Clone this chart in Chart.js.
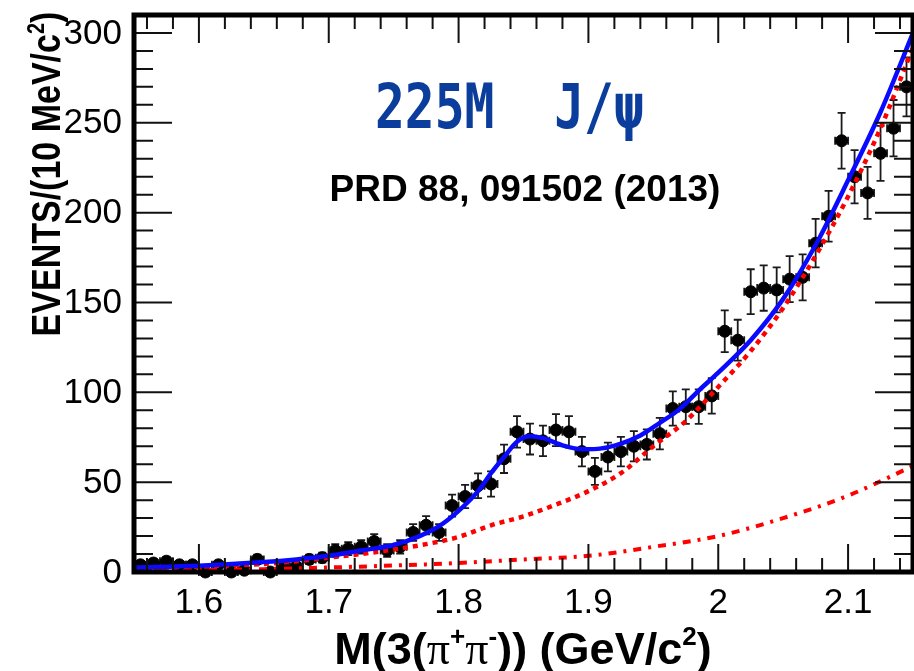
<!DOCTYPE html>
<html>
<head>
<meta charset="utf-8">
<title>M(3(π+π-)) spectrum</title>
<script src="https://cdn.jsdelivr.net/npm/chart.js@4.4.1/dist/chart.umd.min.js"></script>
<style>
  html, body { margin: 0; padding: 0; background: #fff; overflow: hidden; }
  #wrap { position: relative; width: 920px; height: 671px; }
</style>
</head>
<body>
<div id="wrap"><canvas id="spectrum" width="920" height="671"></canvas></div>
<script>
// 10 MeV bins, centres in GeV/c^2
const binCenters = [
  1.555, 1.565, 1.575, 1.585, 1.595, 1.605, 1.615, 1.625, 1.635, 1.645,
  1.655, 1.665, 1.675, 1.685, 1.695, 1.705, 1.715, 1.725, 1.735, 1.745,
  1.755, 1.765, 1.775, 1.785, 1.795, 1.805, 1.815, 1.825, 1.835, 1.845,
  1.855, 1.865, 1.875, 1.885, 1.895, 1.905, 1.915, 1.925, 1.935, 1.945,
  1.955, 1.965, 1.975, 1.985, 1.995, 2.005, 2.015, 2.025, 2.035, 2.045,
  2.055, 2.065, 2.075, 2.085, 2.095, 2.105, 2.115, 2.125, 2.135, 2.145
];
const counts = [
  4, 5, 6, 4, 4, 0, 4, 0, 1, 7,
  0, 3, 3, 7, 8, 12, 13, 14, 17, 12,
  14, 22, 26, 22, 37, 42, 48, 49, 63, 78,
  74, 73, 79, 78, 67, 56, 64, 67, 70, 71,
  77, 91, 92, 92, 98, 134, 129, 156, 158, 157,
  163, 164, 183, 198, 240, 220, 211, 233, 247, 270
];
const countErrors = [
  2.0, 2.2, 2.4, 2.0, 2.0, 0, 2.0, 0, 1.0, 2.6,
  0, 1.7, 1.7, 2.6, 2.8, 3.5, 3.6, 3.7, 4.1, 3.5,
  3.7, 4.7, 5.1, 4.7, 6.1, 6.5, 6.9, 7.0, 7.9, 8.8,
  8.6, 8.5, 8.9, 8.8, 8.2, 7.5, 8.0, 8.2, 8.4, 8.4,
  8.8, 9.5, 9.6, 9.6, 9.9, 11.6, 11.4, 12.5, 12.6, 12.5,
  12.8, 12.8, 13.5, 14.1, 15.5, 14.8, 14.5, 15.3, 15.7, 16.4
];
const binHalfWidth = 0.005;

// total fit
const fitMass = [1.55, 1.6, 1.65, 1.675, 1.7, 1.725, 1.75, 1.77, 1.785, 1.8, 1.815, 1.825, 1.835,
  1.845, 1.855, 1.865, 1.88, 1.895, 1.91, 1.925, 1.94, 1.955, 1.97, 1.985, 2.0, 2.025, 2.05,
  2.075, 2.1, 2.125, 2.15];
const fitTotal = [2.5, 3.5, 5.5, 7, 9, 12, 15, 20, 25.5, 34, 45, 55, 64,
  72.5, 75.5, 74.5, 70.5, 68.3, 68.8, 71.5, 76, 83, 90.5, 101, 111, 129, 152,
  182, 218, 256, 300];

// background shapes
const bkgMass = [1.55, 1.575, 1.6, 1.625, 1.65, 1.675, 1.7, 1.725, 1.75, 1.775, 1.8, 1.825,
  1.85, 1.875, 1.9, 1.925, 1.95, 1.975, 2.0, 2.025, 2.05, 2.075, 2.1, 2.125, 2.15];
const bkgTotal = [2, 2.5, 3, 3.7, 4.5, 6, 8, 10, 12.5, 15.5, 19.5, 26,
  31, 37.5, 45, 55, 70, 84, 103, 123, 147, 176, 209, 247, 292];
const compMass = [1.55, 1.6, 1.65, 1.7, 1.75, 1.8, 1.85, 1.9, 1.95, 2.0, 2.05, 2.1, 2.15];
const compValues = [0.5, 1, 1.6, 2.5, 3.6, 5, 7, 9, 14, 20, 30, 42.5, 59];

const xTicks = [1.6, 1.7, 1.8, 1.9, 2.0, 2.1];
const yTicks = [0, 50, 100, 150, 200, 250, 300];

const toXY = (xs, ys) => xs.map((x, i) => ({ x: x, y: ys[i] }));

const FONT = '"Liberation Sans", Arial, sans-serif';

// draws a run of text pieces (some raised) starting at x, on baseline y
function drawPieces(ctx, pieces, x, y, align) {
  let total = 0;
  pieces.forEach(p => { ctx.font = p.font; total += ctx.measureText(p.t).width; });
  let cx = align === 'center' ? x - total / 2 : x;
  pieces.forEach(p => {
    ctx.font = p.font;
    ctx.fillText(p.t, cx, y + (p.dy || 0));
    cx += ctx.measureText(p.t).width;
  });
}

const errorBars = {
  id: 'errorBars',
  beforeDatasetsDraw(chart) {
    const ctx = chart.ctx, xs = chart.scales.x, ys = chart.scales.y;
    ctx.save();
    ctx.strokeStyle = '#1a1a1a';
    ctx.lineWidth = 1.8;
    binCenters.forEach((m, i) => {
      const px = xs.getPixelForValue(m);
      const py = ys.getPixelForValue(counts[i]);
      const xl = xs.getPixelForValue(m - binHalfWidth);
      const xr = xs.getPixelForValue(m + binHalfWidth);
      ctx.beginPath();
      ctx.moveTo(xl, py); ctx.lineTo(xr, py);
      ctx.moveTo(xl, py - 4); ctx.lineTo(xl, py + 4);
      ctx.moveTo(xr, py - 4); ctx.lineTo(xr, py + 4);
      if (countErrors[i] > 0) {
        const yt = ys.getPixelForValue(counts[i] + countErrors[i]);
        const yb = ys.getPixelForValue(counts[i] - countErrors[i]);
        ctx.moveTo(px, yt); ctx.lineTo(px, yb);
        ctx.moveTo(px - 4, yt); ctx.lineTo(px + 4, yt);
        ctx.moveTo(px - 4, yb); ctx.lineTo(px + 4, yb);
      }
      ctx.stroke();
    });
    ctx.restore();
  }
};

const frameAndText = {
  id: 'frameAndText',
  afterDraw(chart) {
    const ctx = chart.ctx, a = chart.chartArea;
    const xs = chart.scales.x, ys = chart.scales.y;
    ctx.save();

    // inward ticks on all four sides
    ctx.strokeStyle = '#111';
    ctx.lineWidth = 2;
    ctx.beginPath();
    for (let k = 78; k <= 107; k++) {
      const px = xs.getPixelForValue(k * 0.02);
      const len = k % 5 === 0 ? 28 : 14;
      ctx.moveTo(px, a.bottom); ctx.lineTo(px, a.bottom - len);
      ctx.moveTo(px, a.top); ctx.lineTo(px, a.top + len);
    }
    for (let k = 1; k <= 31; k++) {
      const py = ys.getPixelForValue(k * 10);
      const len = k % 5 === 0 ? 38 : 19;
      ctx.moveTo(a.left, py); ctx.lineTo(a.left + len, py);
      ctx.moveTo(a.right, py); ctx.lineTo(a.right - len, py);
    }
    ctx.stroke();

    // frame
    ctx.strokeStyle = '#000';
    ctx.lineWidth = 5;
    ctx.strokeRect(a.left, a.top, a.right - a.left, a.bottom - a.top);

    // tick labels
    ctx.fillStyle = '#000';
    ctx.font = '35px ' + FONT;
    ctx.textAlign = 'center';
    ctx.textBaseline = 'middle';
    xTicks.forEach(v => {
      const label = Number.isInteger(v) ? String(v) : v.toFixed(1);
      ctx.fillText(label, xs.getPixelForValue(v), 603);
    });
    ctx.textAlign = 'right';
    yTicks.forEach(v => ctx.fillText(String(v), 122, ys.getPixelForValue(v) + 1));

    // axis titles
    ctx.textAlign = 'left';
    ctx.textBaseline = 'alphabetic';
    const bold = s => 'bold ' + s + 'px ' + FONT;
    drawPieces(ctx, [
      { t: 'M(3(', font: bold(45) },
      { t: 'π', font: '46px "Liberation Serif", serif' },
      { t: '+', font: bold(26), dy: -19 },
      { t: 'π', font: '46px "Liberation Serif", serif' },
      { t: '-', font: bold(26), dy: -19 },
      { t: ')) (GeV/c', font: bold(45) },
      { t: '2', font: bold(26), dy: -19 },
      { t: ')', font: bold(45) }
    ], 523, 664, 'center');

    ctx.save();
    ctx.translate(60, 174);
    ctx.rotate(-Math.PI / 2);
    ctx.scale(1, 1.2);
    drawPieces(ctx, [
      { t: 'EVENTS/(10 MeV/c', font: bold(34) },
      { t: '2', font: bold(20), dy: -13 },
      { t: ')', font: bold(34) }
    ], 0, 0, 'center');
    ctx.restore();

    // annotations
    ctx.save();
    ctx.fillStyle = '#0b3d9c';
    ctx.translate(375, 128);
    ctx.scale(0.8, 1);
    ctx.font = 'bold 62px "DejaVu Sans Mono", monospace';
    ctx.fillText('225M  J/ψ', 0, 0);
    ctx.restore();

    ctx.fillStyle = '#000';
    ctx.textAlign = 'center';
    ctx.font = bold(37);
    ctx.fillText('PRD 88, 091502 (2013)', 525, 201);

    ctx.restore();
  }
};

new Chart(document.getElementById('spectrum'), {
  type: 'scatter',
  data: {
    datasets: [
      {
        label: 'data',
        data: toXY(binCenters, counts),
        backgroundColor: '#000',
        borderColor: '#000',
        pointRadius: 6,
        pointHoverRadius: 6,
        clip: false,
        order: 3
      },
      {
        label: 'background',
        type: 'line',
        data: toXY(bkgMass, bkgTotal),
        borderColor: '#ff0000',
        borderWidth: 4.5,
        borderDash: [5, 5],
        pointRadius: 0,
        fill: false,
        cubicInterpolationMode: 'monotone',
        order: 2
      },
      {
        label: 'component',
        type: 'line',
        data: toXY(compMass, compValues),
        borderColor: '#ff0000',
        borderWidth: 4,
        borderDash: [8, 7, 3, 7],
        pointRadius: 0,
        fill: false,
        cubicInterpolationMode: 'monotone',
        order: 2
      },
      {
        label: 'fit',
        type: 'line',
        data: toXY(fitMass, fitTotal),
        borderColor: '#0a0aff',
        borderWidth: 4.5,
        pointRadius: 0,
        fill: false,
        cubicInterpolationMode: 'monotone',
        order: 1
      }
    ]
  },
  options: {
    responsive: false,
    devicePixelRatio: 1,
    animation: false,
    layout: { padding: { left: 134, top: 15, right: 1, bottom: 99 } },
    plugins: { legend: { display: false }, tooltip: { enabled: false } },
    scales: {
      x: { type: 'linear', min: 1.55, max: 2.15, display: false },
      y: { type: 'linear', min: 0, max: 310, display: false }
    }
  },
  plugins: [errorBars, frameAndText]
});
</script>
</body>
</html>
